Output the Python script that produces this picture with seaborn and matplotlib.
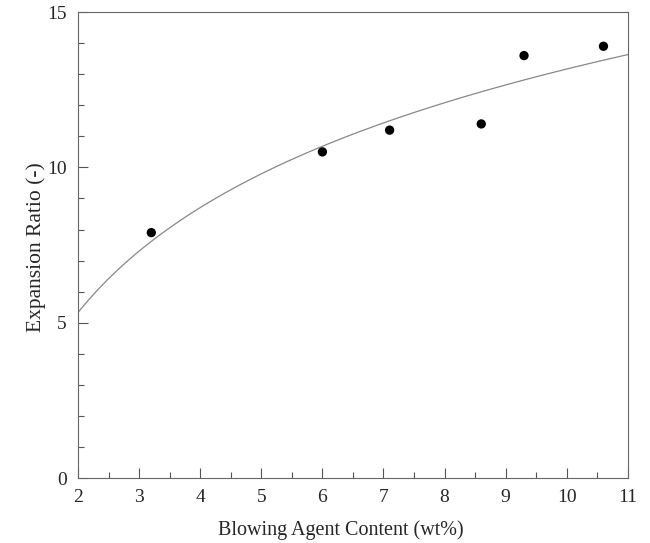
import matplotlib
matplotlib.use("Agg")
import matplotlib.pyplot as plt
from matplotlib.ticker import MultipleLocator
import seaborn as sns
import pandas as pd

content = [3.2, 6.0, 7.1, 8.6, 9.3, 10.6]
expansion = [7.9, 10.5, 11.2, 11.4, 13.6, 13.9]
xticks = [2, 3, 4, 5, 6, 7, 8, 9, 10, 11]
yticks = [0, 5, 10, 15]

df = pd.DataFrame({"content": content, "expansion": expansion})

sns.set_theme(style="ticks")
plt.rcParams['font.family'] = ['Liberation Serif', 'DejaVu Serif']

fig = plt.figure(figsize=(6.5, 5.43), dpi=100)
ax = fig.add_axes([0.12, 0.1197, 0.846, 0.858])
ax.set_xlim(2, 11)
ax.set_ylim(0, 15)

sns.regplot(data=df, x="content", y="expansion", logx=True, ci=None,
            truncate=False, ax=ax,
            scatter_kws=dict(s=45, color="black", edgecolor="none", alpha=1, zorder=3),
            line_kws=dict(color="#888888", lw=0.9))

ax.set_xlim(2, 11)
ax.set_ylim(0, 15)
ax.set_xticks(xticks)
ax.set_yticks(yticks)
ax.xaxis.set_minor_locator(MultipleLocator(0.5))
ax.yaxis.set_minor_locator(MultipleLocator(1))
ax.tick_params(which="both", direction="in", top=False, right=False,
               color="#555555", width=0.8)
ax.tick_params(which="major", length=7, labelsize=14, pad=8)
ax.tick_params(which="minor", length=4)
for s in ax.spines.values():
    s.set_color("#666666")
    s.set_linewidth(0.8)
ax.set_xlabel("Blowing Agent Content (wt%)", fontsize=14.5)
ax.set_ylabel("Expansion Ratio (-)", fontsize=15.5)
ax.xaxis.set_label_coords(0.478, -0.09)
ax.yaxis.set_label_coords(-0.058, 0.495)

fig.savefig("out.png", dpi=100)
